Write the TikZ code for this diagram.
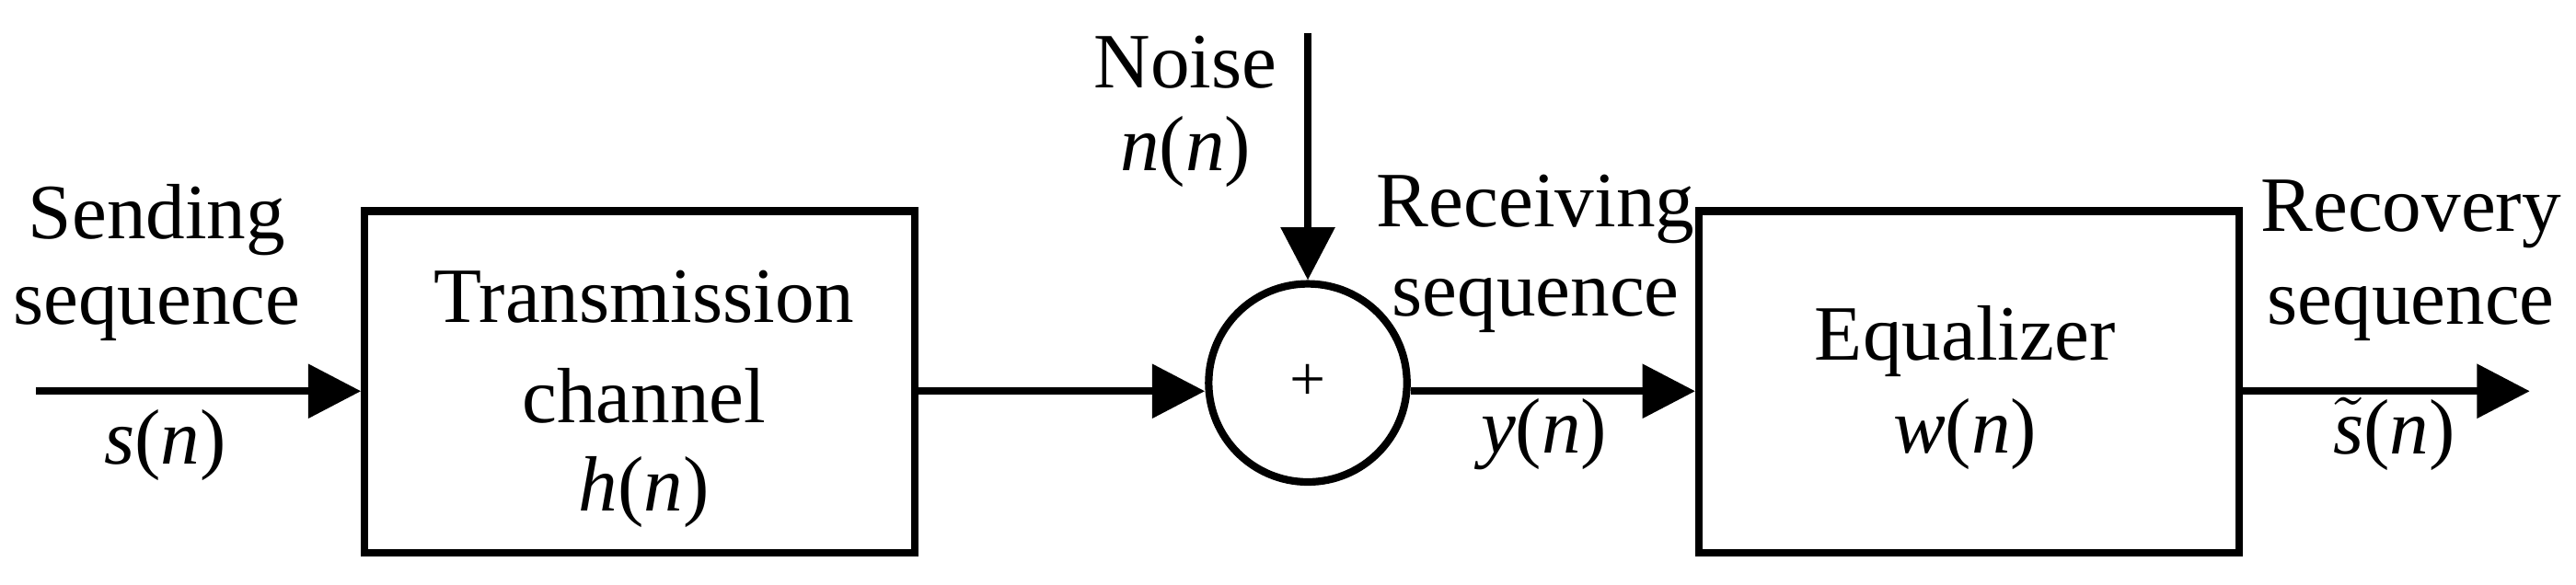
\documentclass[tikz,border=0pt]{standalone}
\usepackage{fontspec}
\setmainfont{Liberation Serif}
\usetikzlibrary{arrows.meta}
\begin{document}
\begin{tikzpicture}[x=0.01cm,y=-0.01cm,
  line width=1.3pt,
  box/.style={draw,minimum height=2.07cm,inner sep=0},
  lbl/.style={font=\fontsize{13.5}{15}\selectfont,inner sep=0},
  arr/.style={-{Triangle[length=0.32cm,width=0.32cm]}}]
\useasboundingbox (0,0) rectangle (1560,354);
\node[box,minimum width=3.33cm] (ch) at (387.5,231.5) {};
\node[box,minimum width=3.27cm] (eq) at (1192.5,231.5) {};
\node[draw,circle,minimum size=1.2cm,inner sep=0] (sum) at (792,232) {};
\coordinate (in) at (22,237);
\coordinate (out) at (1532,237);
\coordinate (ntop) at (792,20);
\draw[arr] (in) -- (ch.west |- in);
\draw[arr] (ch.east |- in) -- (sum.west |- in);
\draw[arr] (sum.east |- in) -- (eq.west |- in);
\draw[arr] (eq.east |- in) -- (out);
\draw[arr] (ntop) -- (sum.north);
\node[lbl] (t1) at (95,133) {Sending};
\node[lbl] (t2) at (95,190) {sequence};
\node[lbl] (t3) at (100,270) {\textit{s}(\textit{n})};
\node[lbl] (t4) at (390,180) {Transmission};
\node[lbl] (t5) at (390,240) {channel};
\node[lbl] (t6) at (390,298) {\textit{h}(\textit{n})};
\node[lbl] (t7) at (718,38) {Noise};
\node[lbl] (t8) at (718,92) {\textit{n}(\textit{n})};
\node[font=\fontsize{11}{12}\selectfont,inner sep=0] (pl) at (sum) {+};
\node[lbl] (t9) at (930,127) {Receiving};
\node[lbl] (t10) at (930,185) {sequence};
\node[lbl] (t11) at (935,263) {\textit{y}(\textit{n})};
\node[lbl] (t12) at (1190,207) {Equalizer};
\node[lbl] (t13) at (1190,263) {\textit{w}(\textit{n})};
\node[lbl] (t14) at (1460,130) {Recovery};
\node[lbl] (t15) at (1460,190) {sequence};
\node[lbl] (t16) at (1450,263) {$\tilde{\textit{s}}$(\textit{n})};
\end{tikzpicture}
\end{document}
